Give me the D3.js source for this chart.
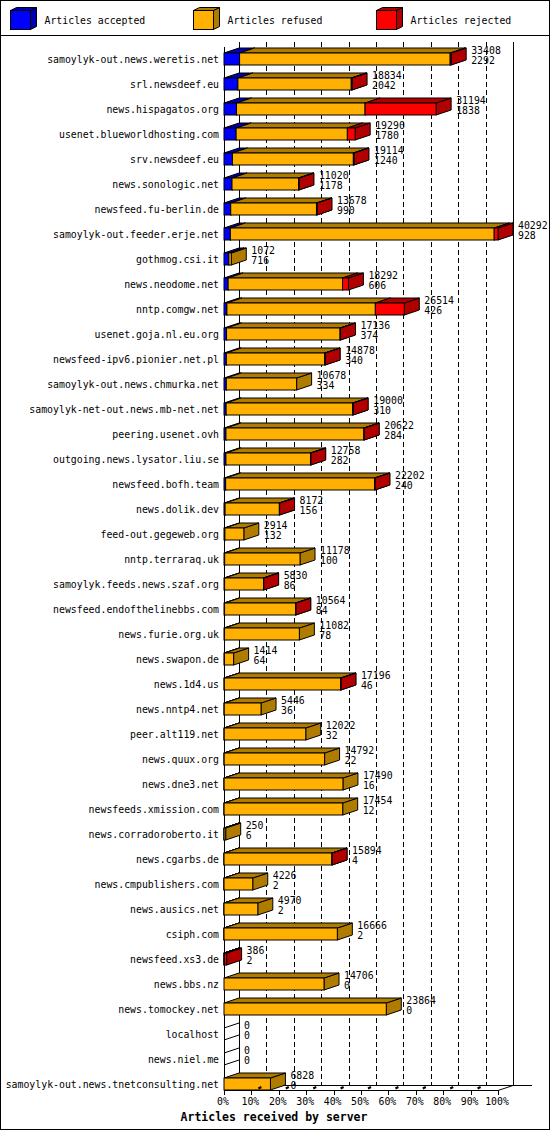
<!DOCTYPE html>
<html>
<head>
<meta charset="utf-8">
<script src="https://cdn.jsdelivr.net/npm/d3@7"></script>
<style>
  body { margin: 0; background: #fff; }
  text { font-family: "DejaVu Sans Mono", "Liberation Mono", monospace; font-size: 9.85px; fill: #000; }
</style>
</head>
<body>
<svg id="chart" width="550" height="1130"></svg>
<script>
// servers, top to bottom
var servers = [
    "samoylyk-out.news.weretis.net", "srl.newsdeef.eu", "news.hispagatos.org",
    "usenet.blueworldhosting.com", "srv.newsdeef.eu", "news.sonologic.net",
    "newsfeed.fu-berlin.de", "samoylyk-out.feeder.erje.net", "gothmog.csi.it",
    "news.neodome.net", "nntp.comgw.net", "usenet.goja.nl.eu.org",
    "newsfeed-ipv6.pionier.net.pl", "samoylyk-out.news.chmurka.net",
    "samoylyk-net-out.news.mb-net.net", "peering.usenet.ovh",
    "outgoing.news.lysator.liu.se", "newsfeed.bofh.team", "news.dolik.dev",
    "feed-out.gegeweb.org", "nntp.terraraq.uk", "samoylyk.feeds.news.szaf.org",
    "newsfeed.endofthelinebbs.com", "news.furie.org.uk", "news.swapon.de",
    "news.1d4.us", "news.nntp4.net", "peer.alt119.net", "news.quux.org",
    "news.dne3.net", "newsfeeds.xmission.com", "news.corradoroberto.it",
    "news.cgarbs.de", "news.cmpublishers.com", "news.ausics.net", "csiph.com",
    "newsfeed.xs3.de", "news.bbs.nz", "news.tomockey.net", "localhost",
    "news.niel.me", "samoylyk-out.news.tnetconsulting.net"
];

// articles offered (upper label)
var totals = [
    33408, 18834, 31194, 19290, 19114, 11020, 13678, 40292, 1072, 18292,
    26514, 17136, 14878, 10678, 19000, 20622, 12758, 22202, 8172, 2914,
    11178, 5830, 10564, 11082, 1414, 17196, 5446, 12022, 14792, 17490,
    17454, 250, 15894, 4226, 4970, 16666, 386, 14706, 23864, 0, 0, 6828
];

// articles accepted (lower label)
var accepted = [
    2292, 2042, 1838, 1780, 1240, 1178, 990, 928, 716, 606,
    426, 374, 340, 334, 310, 284, 282, 240, 156, 132,
    100, 86, 84, 78, 64, 46, 36, 32, 22, 16,
    12, 6, 4, 2, 2, 2, 2, 0, 0, 0, 0, 0
];

var refused = [
    30966, 16672, 18906, 16360, 17784, 9782, 12608, 38804, 356, 16826,
    21828, 16692, 14478, 10344, 18610, 20288, 12436, 21902, 7986, 2782,
    11078, 5724, 10440, 11004, 1350, 17120, 5410, 11990, 14770, 17474,
    17442, 244, 15870, 4224, 4968, 16664, 84, 14706, 23864, 0, 0, 6828
];

var rejected = [
    150, 120, 10450, 1150, 90, 60, 80, 560, 0, 860,
    4260, 70, 60, 0, 80, 50, 40, 60, 30, 0,
    0, 20, 40, 0, 0, 30, 0, 0, 0, 0,
    0, 0, 20, 0, 0, 0, 300, 0, 0, 0, 0, 0
];

var seriesNames = ["Articles accepted", "Articles refused", "Articles rejected"];
var seriesKeys = ["accepted", "refused", "rejected"];
var frontColors = ["#0000ff", "#ffb000", "#ff0000"];
var sideColors = ["#0000b0", "#b07c00", "#b00000"];
var tickLabels = ["0%", "10%", "20%", "30%", "40%", "50%", "60%", "70%", "80%", "90%", "100%"];
var xTitle = "Articles received by server";

// 3d depth of the bars
var depthX = 15, depthY = 5;

var svg = d3.select("#chart");

// frame and legend separator
svg.append("rect")
    .attr("x", 0.5).attr("y", 0.5)
    .attr("width", 549).attr("height", 1129)
    .attr("fill", "none").attr("stroke", "#000");
svg.append("line")
    .attr("x1", 0).attr("x2", 550)
    .attr("y1", 35.5).attr("y2", 35.5)
    .attr("stroke", "#000");

// legend cubes
var legendX = [10.5, 193.5, 376.5];
var lg = svg.append("g").attr("id", "legend");
seriesNames.forEach(function(name, i) {
    var x0 = legendX[i], y0 = 10.5, w = 20, h = 19, dx = 6, dy = 3;
    lg.append("path")
        .attr("d", "M" + (x0 + w) + "," + y0 + "L" + (x0 + w + dx) + "," + (y0 - dy) +
            "L" + (x0 + w + dx) + "," + (y0 + h - dy) + "L" + (x0 + w) + "," + (y0 + h) + "Z")
        .attr("fill", sideColors[i]).attr("stroke", "#000");
    lg.append("path")
        .attr("d", "M" + x0 + "," + y0 + "L" + (x0 + dx) + "," + (y0 - dy) +
            "L" + (x0 + w + dx) + "," + (y0 - dy) + "L" + (x0 + w) + "," + y0 + "Z")
        .attr("fill", sideColors[i]).attr("stroke", "#000");
    lg.append("rect")
        .attr("x", x0).attr("y", y0)
        .attr("width", w).attr("height", h)
        .attr("fill", frontColors[i]).attr("stroke", "#000");
    lg.append("text")
        .attr("x", x0 + 34).attr("y", 24)
        .text(name);
});

// scales
var maxTotal = d3.max(totals);
var x = d3.scaleLinear().domain([0, 100]).range([224, 498]);
var y = d3.scaleBand().domain(servers).range([46.5, 1096.5]);
var barH = 12;

var rows = servers.map(function(s, i) {
    return {
        server: s,
        total: totals[i],
        accepted: accepted[i],
        refused: refused[i],
        rejected: rejected[i]
    };
});

var stacked = d3.stack().keys(seriesKeys)(rows);

var plotTop = 42, backBase = 1085, frontBase = 1090;

// back walls and dashed grid
var grid = svg.append("g").attr("id", "grid");
grid.selectAll("line.gl")
    .data(d3.range(10, 100, 10))
    .enter()
    .append("line")
    .attr("class", "gl")
    .attr("x1", function(d) { return Math.round(x(d) + depthX) + 0.5; })
    .attr("x2", function(d) { return Math.round(x(d) + depthX) + 0.5; })
    .attr("y1", plotTop)
    .attr("y2", backBase)
    .attr("stroke", "#000")
    .attr("stroke-dasharray", "5,3");
grid.append("line")
    .attr("x1", x(0) + depthX + 0.5).attr("x2", x(0) + depthX + 0.5)
    .attr("y1", plotTop).attr("y2", backBase)
    .attr("stroke", "#000");
grid.append("line")
    .attr("x1", x(100) + depthX + 0.5).attr("x2", x(100) + depthX + 0.5)
    .attr("y1", plotTop).attr("y2", backBase)
    .attr("stroke", "#000");
grid.append("line")
    .attr("x1", x(0) + 0.5).attr("x2", x(0) + 0.5)
    .attr("y1", plotTop + depthY).attr("y2", frontBase)
    .attr("stroke", "#000");
grid.append("line")
    .attr("x1", x(0) + depthX).attr("x2", 532)
    .attr("y1", backBase + 0.5).attr("y2", backBase + 0.5)
    .attr("stroke", "#000");

// bars, segment by segment (front, top, right side)
var bars = svg.append("g").attr("id", "bars");
stacked.forEach(function(layer, k) {
    var segs = layer.filter(function(d) { return d[1] > d[0]; });
    var g = bars.append("g").attr("id", "layer" + k);
    g.selectAll("path.side")
        .data(segs)
        .enter()
        .append("path")
        .attr("class", "side")
        .attr("d", function(d) {
            var x1 = x(d[1] / maxTotal * 100);
            var yt = y(d.data.server) + y.bandwidth() / 2 - barH / 2;
            return "M" + x1 + "," + yt + "L" + (x1 + depthX) + "," + (yt - depthY) +
                "L" + (x1 + depthX) + "," + (yt + barH - depthY) + "L" + x1 + "," + (yt + barH) + "Z";
        })
        .attr("fill", sideColors[k])
        .attr("stroke", "#000");
    g.selectAll("path.top")
        .data(segs)
        .enter()
        .append("path")
        .attr("class", "top")
        .attr("d", function(d) {
            var x0 = x(d[0] / maxTotal * 100);
            var x1 = x(d[1] / maxTotal * 100);
            var yt = y(d.data.server) + y.bandwidth() / 2 - barH / 2;
            return "M" + x0 + "," + yt + "L" + (x0 + depthX) + "," + (yt - depthY) +
                "L" + (x1 + depthX) + "," + (yt - depthY) + "L" + x1 + "," + yt + "Z";
        })
        .attr("fill", sideColors[k])
        .attr("stroke", "#000");
    g.selectAll("rect")
        .data(segs)
        .enter()
        .append("rect")
        .attr("x", function(d) { return x(d[0] / maxTotal * 100); })
        .attr("y", function(d) { return y(d.data.server) + y.bandwidth() / 2 - barH / 2; })
        .attr("width", function(d) { return x(d[1] / maxTotal * 100) - x(d[0] / maxTotal * 100); })
        .attr("height", barH)
        .attr("fill", frontColors[k])
        .attr("stroke", "#000");
});

// empty rows only show the edges of the bar
var empty = rows.filter(function(d) { return d.total === 0; });
[-barH / 2, barH / 2].forEach(function(off) {
    bars.selectAll(null)
        .data(empty)
        .enter()
        .append("line")
        .attr("x1", x(0))
        .attr("x2", x(0) + depthX)
        .attr("y1", function(d) { return y(d.server) + y.bandwidth() / 2 + off; })
        .attr("y2", function(d) { return y(d.server) + y.bandwidth() / 2 + off - depthY; })
        .attr("stroke", "#000");
});

// server names
svg.append("g").selectAll("text")
    .data(rows)
    .enter()
    .append("text")
    .attr("x", 219)
    .attr("y", function(d) { return y(d.server) + y.bandwidth() / 2 + 4; })
    .attr("text-anchor", "end")
    .text(function(d) { return d.server; });

// value labels: total and accepted
var vals = svg.append("g").attr("id", "values");
vals.selectAll("text.tot")
    .data(rows)
    .enter()
    .append("text")
    .attr("class", "tot")
    .attr("x", function(d) { return x(d.total / maxTotal * 100) + depthX + 5; })
    .attr("y", function(d) { return y(d.server) + y.bandwidth() / 2 - 5; })
    .text(function(d) { return d.total; });
vals.selectAll("text.acc")
    .data(rows)
    .enter()
    .append("text")
    .attr("class", "acc")
    .attr("x", function(d) { return x(d.total / maxTotal * 100) + depthX + 5; })
    .attr("y", function(d) { return y(d.server) + y.bandwidth() / 2 + 5; })
    .text(function(d) { return d.accepted; });

// x axis
var ax = svg.append("g").attr("id", "axis");
ax.append("line")
    .attr("x1", x(0)).attr("x2", x(100))
    .attr("y1", frontBase + 0.5).attr("y2", frontBase + 0.5)
    .attr("stroke", "#000");
ax.append("line")
    .attr("x1", x(100)).attr("x2", x(100) + depthX)
    .attr("y1", frontBase + 0.5).attr("y2", backBase + 0.5)
    .attr("stroke", "#000");
var ticks = ax.selectAll("g.tick")
    .data(tickLabels)
    .enter()
    .append("g")
    .attr("class", "tick");
ticks.append("line")
    .attr("x1", function(d, i) { return Math.round(x(i * 10)) + 0.5; })
    .attr("x2", function(d, i) { return Math.round(x(i * 10)) + 0.5; })
    .attr("y1", frontBase)
    .attr("y2", frontBase + 5)
    .attr("stroke", "#000");
ticks.filter(function(d, i) { return i > 0 && i < 10; })
    .append("line")
    .attr("x1", function(d, i) { return x((i + 1) * 10) + 7; })
    .attr("x2", function(d, i) { return x((i + 1) * 10) + 10; })
    .attr("y1", frontBase - 1.5)
    .attr("y2", frontBase - 3)
    .attr("stroke", "#000")
    .attr("stroke-width", 2);
ticks.append("text")
    .attr("x", function(d, i) { return x(i * 10) - 1; })
    .attr("y", 1105)
    .attr("text-anchor", "middle")
    .text(function(d) { return d; });

svg.append("text")
    .attr("x", 274)
    .attr("y", 1121)
    .attr("text-anchor", "middle")
    .style("font-weight", "bold")
    .style("font-size", "11.5px")
    .text(xTitle);
</script>
</body>
</html>
